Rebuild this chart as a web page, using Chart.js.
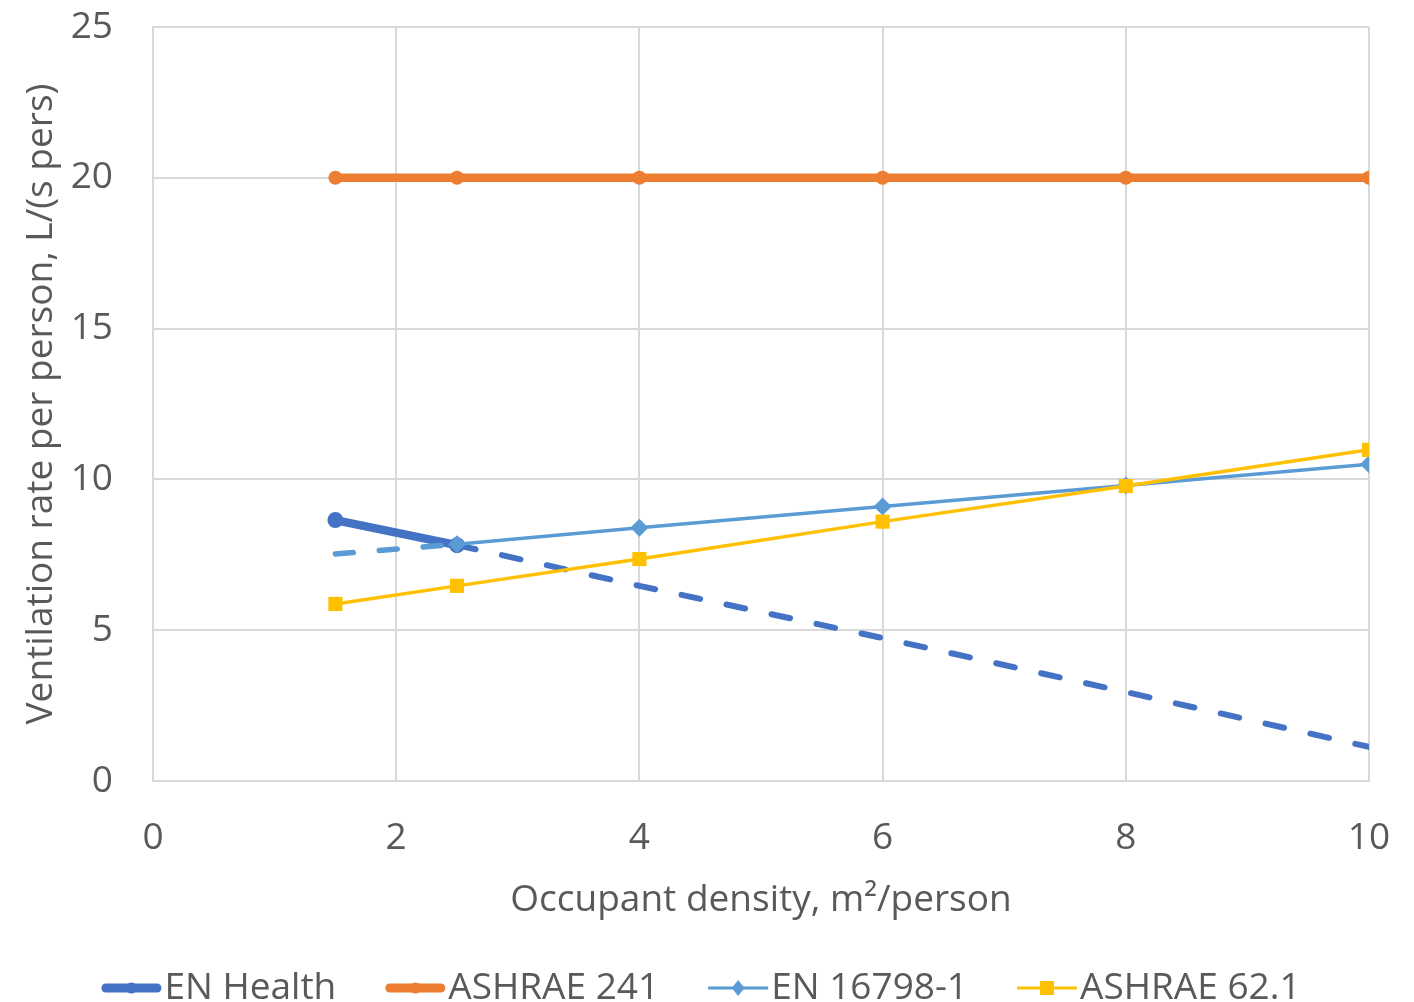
<!DOCTYPE html>
<html><head><meta charset="utf-8">
<script src="https://cdn.jsdelivr.net/npm/chart.js@4"></script>
<style>html,body{margin:0;padding:0;background:#fff}#wrap{width:1414px;height:1002px}</style>
</head><body><div id="wrap"><canvas id="c" width="1414" height="1002"></canvas></div>
<script>
const xTicks = [0, 2, 4, 6, 8, 10];
const yTicks = [0, 5, 10, 15, 20, 25];
const seriesNames = ['EN Health', 'ASHRAE 241', 'EN 16798-1', 'ASHRAE 62.1'];
const enHealthX = [1.5, 2.5];
const enHealthY = [8.65, 7.82];
const enHealthExtX = [2.5, 4, 6, 8, 10];
const enHealthExtY = [7.82, 6.47, 4.74, 2.95, 1.13];
const ashrae241X = [1.5, 2.5, 4, 6, 8, 10];
const ashrae241Y = [20, 20, 20, 20, 20, 20];
const en16798X = [2.5, 4, 6, 8, 10];
const en16798Y = [7.85, 8.4, 9.1, 9.8, 10.5];
const en16798ExtX = [1.5, 2.5];
const en16798ExtY = [7.53, 7.85];
const ashrae621X = [1.5, 2.5, 4, 6, 8, 10];
const ashrae621Y = [5.87, 6.47, 7.36, 8.6, 9.78, 10.98];

const FONT = 'Open Sans';
const TXT = '#595959';
const C = {blue:'#4472C4', orange:'#ED7D31', light:'#5B9BD5', gold:'#FFC000'};
const pts = (xs, ys) => xs.map((x, i) => ({x: x, y: ys[i]}));

const datasets = [
  {label: seriesNames[3], data: pts(ashrae621X, ashrae621Y), borderColor: C.gold, backgroundColor: C.gold, borderWidth: 3.5, pointStyle: 'rect', pointRadius: 10, pointBorderWidth: 0},
  {label: seriesNames[2], data: pts(en16798X, en16798Y), borderColor: C.light, backgroundColor: C.light, borderWidth: 3.5, pointStyle: 'rectRot', pointRadius: 9, pointBorderWidth: 0},
  {label: seriesNames[2] + ' ext', data: pts(en16798ExtX, en16798ExtY), borderColor: C.light, borderWidth: 5.5, borderDash: [18, 26], borderCapStyle: 'round', pointRadius: 0},
  {label: seriesNames[0], data: pts(enHealthX, enHealthY), borderColor: C.blue, backgroundColor: C.blue, borderWidth: 8.5, pointStyle: 'circle', pointRadius: 8, pointBorderWidth: 0},
  {label: seriesNames[0] + ' ext', data: pts(enHealthExtX, enHealthExtY), borderColor: C.blue, borderWidth: 6, borderDash: [19, 27], borderCapStyle: 'round', pointRadius: 0},
  {label: seriesNames[1], data: pts(ashrae241X, ashrae241Y), borderColor: C.orange, backgroundColor: C.orange, borderWidth: 8.5, pointStyle: 'circle', pointRadius: 7, pointBorderWidth: 0}
];

const legendStyles = [
  {color: C.blue, width: 9, cap: 'round', marker: 'circle', r: 5.5},
  {color: C.orange, width: 9, cap: 'round', marker: 'circle', r: 5.5},
  {color: C.light, width: 3, cap: 'butt', marker: 'diamond', r: 8},
  {color: C.gold, width: 3, cap: 'butt', marker: 'square', r: 7}
];

const legendPlugin = {
  id: 'customLegend',
  afterDraw(chart) {
    const ctx = chart.ctx;
    ctx.save();
    ctx.font = '37px ' + FONT;
    ctx.textBaseline = 'alphabetic';
    const lineLen = 60, gapText = 3, gapItem = 49;
    const widths = seriesNames.map(n => ctx.measureText(n).width);
    let total = 0;
    widths.forEach((w, i) => { total += lineLen + gapText + w + (i < widths.length - 1 ? gapItem : 0); });
    let x = 701 - total / 2;
    const yMid = 988, yBase = 999;
    seriesNames.forEach((n, i) => {
      const s = legendStyles[i];
      const x0 = x + (s.cap === 'round' ? s.width / 2 : 0);
      const x1 = x + lineLen - (s.cap === 'round' ? s.width / 2 : 0);
      ctx.strokeStyle = s.color; ctx.lineWidth = s.width; ctx.lineCap = s.cap;
      ctx.beginPath(); ctx.moveTo(x0, yMid); ctx.lineTo(x1, yMid); ctx.stroke();
      const cx = x + lineLen / 2;
      ctx.fillStyle = s.color;
      ctx.beginPath();
      if (s.marker === 'circle') ctx.arc(cx, yMid, s.r, 0, Math.PI * 2);
      else if (s.marker === 'diamond') { ctx.moveTo(cx, yMid - s.r); ctx.lineTo(cx + s.r * 0.8, yMid); ctx.lineTo(cx, yMid + s.r); ctx.lineTo(cx - s.r * 0.8, yMid); ctx.closePath(); }
      else ctx.rect(cx - s.r, yMid - s.r, s.r * 2, s.r * 2);
      ctx.fill();
      ctx.fillStyle = TXT;
      ctx.fillText(n, x + lineLen + gapText, yBase);
      x += lineLen + gapText + widths[i] + gapItem;
    });
    ctx.restore();
  }
};

new Chart(document.getElementById('c'), {
  type: 'line',
  data: {datasets: datasets},
  plugins: [legendPlugin],
  options: {
    responsive: false,
    animation: false,
    layout: {padding: {left: 0, right: 45, top: 27, bottom: 71}},
    plugins: {legend: {display: false}, tooltip: {enabled: false}},
    scales: {
      x: {
        type: 'linear', min: 0, max: 10,
        afterBuildTicks: a => { a.ticks = xTicks.map(v => ({value: v})); },
        afterFit: a => { a.height = 150; a.paddingLeft = 0; a.paddingRight = 0; },
        grid: {color: '#D9D9D9', lineWidth: 2, tickLength: 0, drawTicks: false},
        border: {color: '#D9D9D9', width: 2},
        ticks: {color: TXT, font: {family: FONT, size: 37}, padding: 35, maxRotation: 0},
        title: {display: true, text: 'Occupant density, m²/person', color: TXT, font: {family: FONT, size: 37}, padding: {top: 8, bottom: 8}}
      },
      y: {
        type: 'linear', min: 0, max: 25,
        afterBuildTicks: a => { a.ticks = yTicks.map(v => ({value: v})); },
        afterFit: a => { a.width = 153; a.paddingTop = 0; a.paddingBottom = 0; },
        grid: {color: '#D9D9D9', lineWidth: 2, tickLength: 0, drawTicks: false},
        border: {color: '#D9D9D9', width: 2},
        ticks: {color: TXT, font: {family: FONT, size: 37}, padding: 40},
        title: {display: true, text: 'Ventilation rate per person, L/(s pers)', color: TXT, font: {family: FONT, size: 37}, padding: {top: 19, bottom: 0}}
      }
    }
  }
});
</script></body></html>
